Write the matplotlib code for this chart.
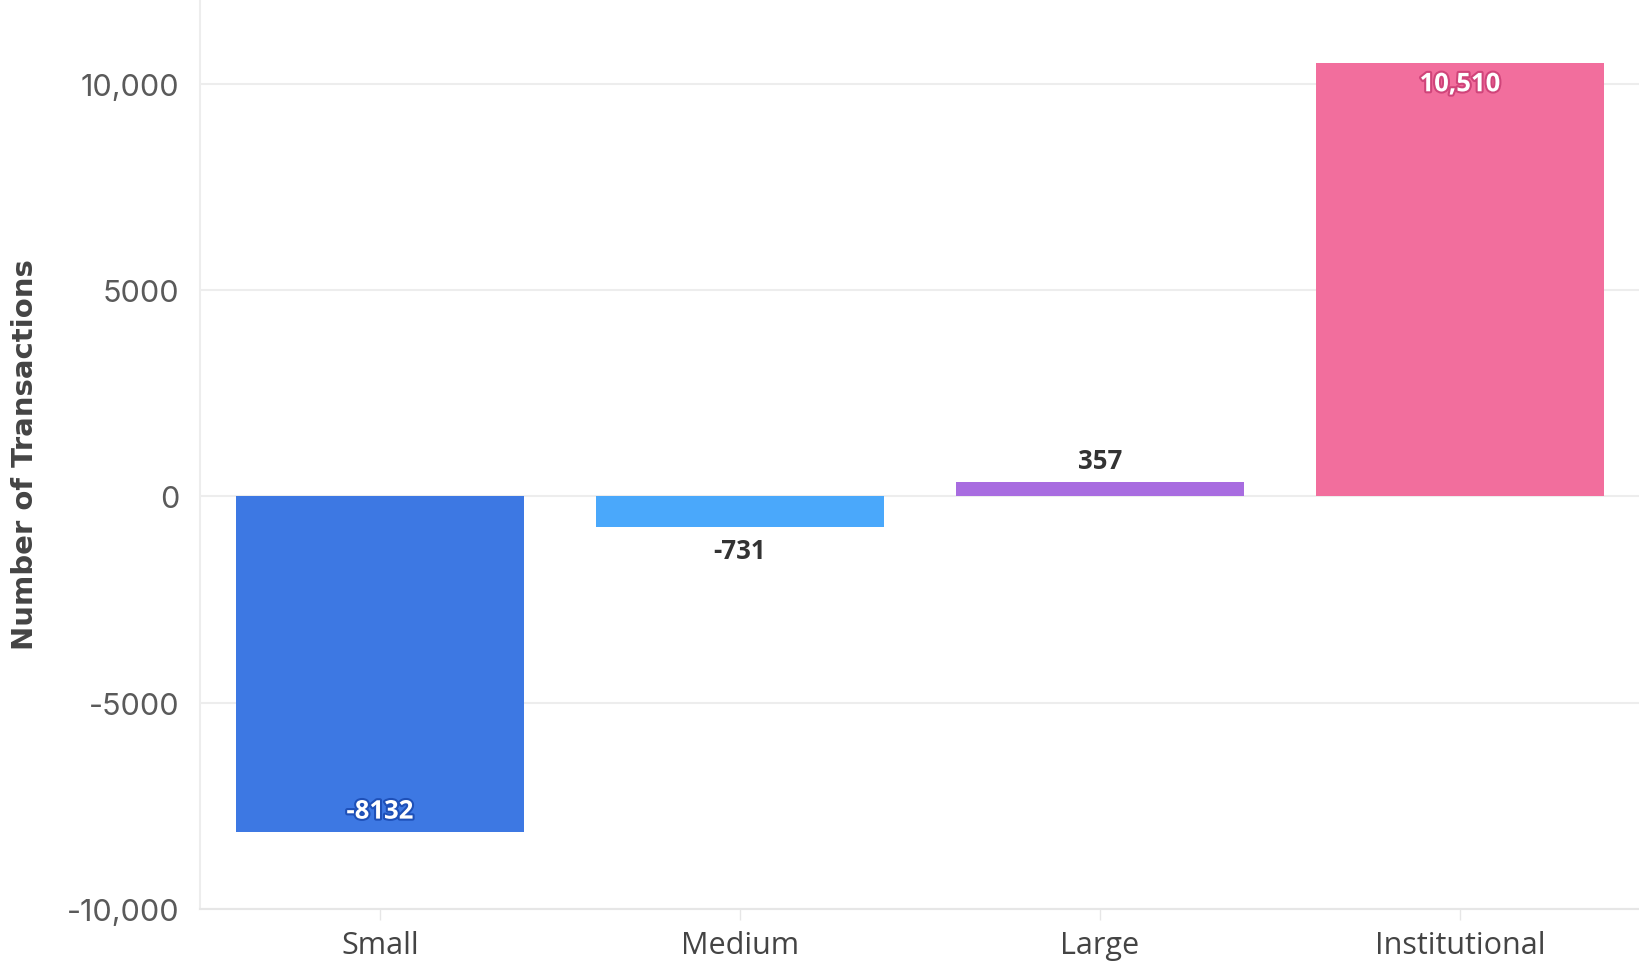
import matplotlib
matplotlib.use("Agg")
import matplotlib.pyplot as plt
import matplotlib.patheffects as pe
from matplotlib.ticker import FixedLocator, FuncFormatter

# data
categories = ["Small", "Medium", "Large", "Institutional"]
values = [-8132, -731, 357, 10510]
value_labels = ["-8132", "-731", "357", "10,510"]
bar_colors = ["#3D78E3", "#4AA8FB", "#A86CE0", "#F26E9D"]
y_ticks = [-10000, -5000, 0, 5000, 10000]
y_tick_labels = ["-10,000", "-5000", "0", "5000", "10,000"]

fig = plt.figure(figsize=(16.39, 9.62), dpi=100)
ax = fig.add_axes([200 / 1639, 52 / 962, 1440 / 1639, 910 / 962])

x = range(len(categories))
bars = ax.bar(x, values, width=0.8, color=bar_colors, zorder=3)

ax.set_xlim(-0.5, 3.5)
ax.set_ylim(-10000, 12060)

# grid and spines
ax.yaxis.set_major_locator(FixedLocator(y_ticks))
ax.yaxis.set_major_formatter(FuncFormatter(lambda v, p: y_tick_labels[y_ticks.index(int(v))]))
ax.grid(axis="y", color="#EDEDED", linewidth=1.5, zorder=0)
for s in ["top", "right"]:
    ax.spines[s].set_visible(False)
ax.spines["left"].set_color("#EDEDED")
ax.spines["left"].set_linewidth(1.5)
ax.spines["bottom"].set_color("#E6E6E6")
ax.spines["bottom"].set_linewidth(1.5)

ax.tick_params(axis="y", length=0, pad=15, labelsize=22, labelcolor="#5A5A5A")
ax.tick_params(axis="x", length=8, width=1, color="#E6E6E6", pad=7, labelsize=22, labelcolor="#444444")
for t in ax.get_yticklabels():
    t.set_fontfamily(["Inter", "DejaVu Sans"])
ax.set_xticks(list(x))
ax.set_xticklabels(categories, fontfamily=["Open Sans", "DejaVu Sans"])

ax.set_ylabel("Number of Transactions", fontsize=21, fontweight="bold", color="#444444",
              fontfamily=["DejaVu Sans"], labelpad=20)

# value labels
label_style = {
    "Small": dict(color="white", off=15, stroke="#1E50B8"),
    "Medium": dict(color="#333333", off=-17, stroke=None),
    "Large": dict(color="#333333", off=15, stroke=None),
    "Institutional": dict(color="white", off=-15, stroke="#D0447A"),
}
for i, (cat, v, lab) in enumerate(zip(categories, values, value_labels)):
    st = label_style[cat]
    t = ax.annotate(lab, (i, v), xytext=(0, st["off"]), textcoords="offset points",
                    ha="center", va="center", fontsize=18.5, fontweight="bold",
                    color=st["color"], fontfamily=["Open Sans", "DejaVu Sans"], zorder=5)
    if st["stroke"]:
        t.set_path_effects([pe.withStroke(linewidth=3, foreground=st["stroke"])])

fig.savefig("out.png", dpi=100, facecolor="white")
